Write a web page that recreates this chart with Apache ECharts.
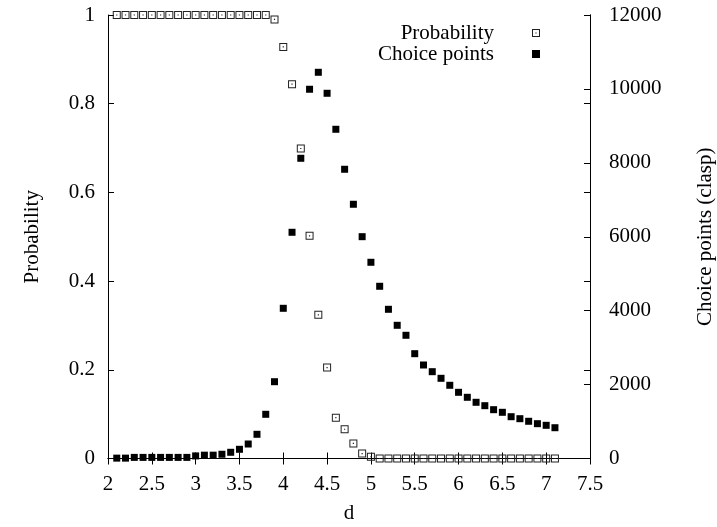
<!DOCTYPE html>
<html>
<head>
<meta charset="utf-8">
<script src="https://cdn.jsdelivr.net/npm/echarts@6/dist/echarts.min.js"></script>
<style>
html,body{margin:0;padding:0;background:#fff;}
#chart{width:717px;height:527px;}
</style>
</head>
<body>
<div id="chart"></div>
<script>
// ---- data ----
var dValues = [2.1,2.2,2.3,2.4,2.5,2.6,2.7,2.8,2.9,3.0,
               3.1,3.2,3.3,3.4,3.5,3.6,3.7,3.8,3.9,4.0,
               4.1,4.2,4.3,4.4,4.5,4.6,4.7,4.8,4.9,5.0,
               5.1,5.2,5.3,5.4,5.5,5.6,5.7,5.8,5.9,6.0,
               6.1,6.2,6.3,6.4,6.5,6.6,6.7,6.8,6.9,7.0,7.1];
var probability = [1,1,1,1,1,1,1,1,1,1,
                   1,1,1,1,1,1,1,1,0.99,0.928,
                   0.844,0.699,0.502,0.324,0.205,0.092,0.066,0.034,0.011,0.004,
                   0,0,0,0,0,0,0,0,0,0,
                   0,0,0,0,0,0,0,0,0,0,0];
var choicePoints = [10,10,30,30,30,30,30,30,30,70,
                    90,90,115,168,249,392,655,1196,2078,4064,
                    6121,8123,9991,10450,9882,8908,7826,6879,6002,5309,
                    4660,4037,3604,3334,2836,2530,2349,2170,1981,1791,
                    1656,1521,1429,1321,1250,1131,1077,1007,942,898,833];
var xTicks = {min: 2, max: 7.5, interval: 0.5};
var probTicks = {min: 0, max: 1, interval: 0.2};
var choiceTicks = {min: 0, max: 12000, interval: 2000};
var seriesNames = ['Probability', 'Choice points'];
var axisTitles = {x: 'd', left: 'Probability', right: 'Choice points (clasp)'};

// ---- chart ----
var FONT = '"Liberation Serif", "DejaVu Serif", serif';
var FS = 21;
var openSquare = 'path://M0,0H8V8H0Z M1,1V7H7V1Z M3.4,3.4H4.6V4.6H3.4Z';
var filledSquare = 'path://M0,0H8V8H0Z';

function zip(xs, ys){ return xs.map(function(x,i){ return [x, ys[i]]; }); }
function plain(v){ return String(v); }

var axisLine = {show: true, lineStyle: {color: '#000', width: 1}};
var tick = {show: true, inside: true, length: 6, lineStyle: {color: '#000', width: 1}};
var labelStyle = {color: '#000', fontFamily: FONT, fontSize: FS, formatter: plain};

var chart = echarts.init(document.getElementById('chart'), null, {renderer: 'canvas'});
chart.setOption({
  animation: false,
  backgroundColor: '#fff',
  grid: {left: 108, right: 127, top: 15, bottom: 68.5, containLabel: false, outerBoundsMode: 'none'},
  legend: {
    data: seriesNames,
    orient: 'vertical',
    align: 'right',
    right: 177,
    top: 22.5,
    padding: 0,
    itemGap: 0,
    itemWidth: 74,
    itemHeight: 8,
    textStyle: {color: '#000', fontFamily: FONT, fontSize: FS, lineHeight: 21}
  },
  xAxis: [{
    type: 'value', position: 'bottom',
    min: xTicks.min, max: xTicks.max, interval: xTicks.interval,
    axisLine: axisLine, axisTick: tick, splitLine: {show: false},
    axisLabel: Object.assign({margin: 15}, labelStyle),
    name: axisTitles.x, nameLocation: 'middle', nameGap: 44,
    nameTextStyle: {color: '#000', fontFamily: FONT, fontSize: FS, verticalAlign: 'top'}
  }, {
    type: 'value', position: 'top',
    min: xTicks.min, max: xTicks.max, interval: xTicks.interval,
    axisLine: axisLine, axisTick: tick, splitLine: {show: false},
    axisLabel: {show: false}
  }],
  yAxis: [{
    type: 'value', position: 'left',
    min: probTicks.min, max: probTicks.max, interval: probTicks.interval,
    axisLine: axisLine, axisTick: tick, splitLine: {show: false},
    axisLabel: Object.assign({margin: 13}, labelStyle),
    name: axisTitles.left, nameLocation: 'middle', nameGap: 65, nameRotate: 90,
    nameTextStyle: {color: '#000', fontFamily: FONT, fontSize: FS}
  }, {
    type: 'value', position: 'right',
    min: choiceTicks.min, max: choiceTicks.max, interval: choiceTicks.interval,
    axisLine: axisLine, axisTick: tick, splitLine: {show: false},
    axisLabel: Object.assign({margin: 19}, labelStyle),
    name: axisTitles.right, nameLocation: 'middle', nameGap: 105, nameRotate: 90,
    nameTextStyle: {color: '#000', fontFamily: FONT, fontSize: FS}
  }, {
    type: 'value', position: 'right', offset: 0,
    min: probTicks.min, max: probTicks.max, interval: probTicks.interval,
    axisLine: axisLine, axisTick: tick, splitLine: {show: false},
    axisLabel: {show: false}
  }],
  series: [{
    name: seriesNames[0],
    type: 'scatter',
    xAxisIndex: 0, yAxisIndex: 0,
    data: zip(dValues, probability),
    symbol: openSquare, symbolSize: 8, symbolKeepAspect: true,
    itemStyle: {color: '#222', opacity: 1},
    emphasis: {disabled: true}
  }, {
    name: seriesNames[1],
    type: 'scatter',
    xAxisIndex: 0, yAxisIndex: 1,
    data: zip(dValues, choicePoints),
    symbol: filledSquare, symbolSize: 7, symbolKeepAspect: true,
    itemStyle: {color: '#000', opacity: 1},
    emphasis: {disabled: true}
  }]
});
</script>
</body>
</html>
